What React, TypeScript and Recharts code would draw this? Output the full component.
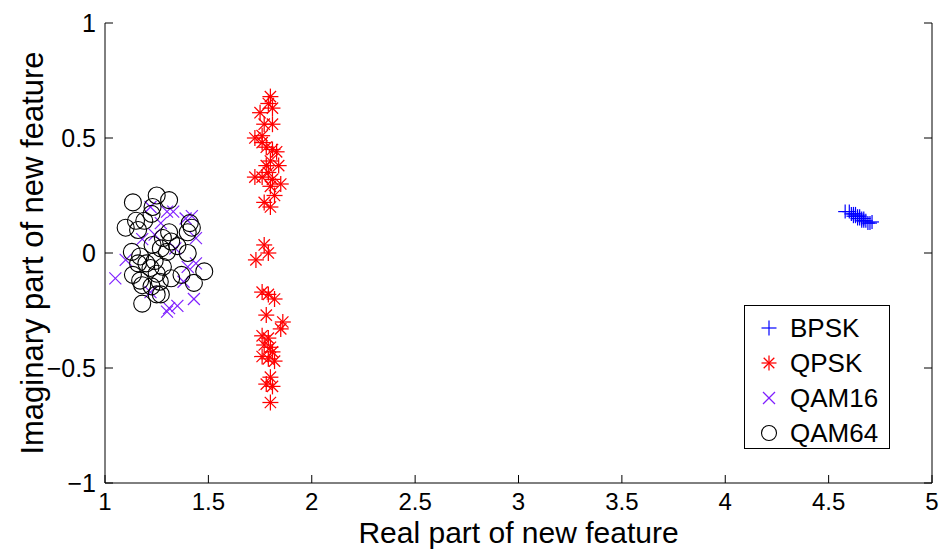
import React from 'react';
import { ScatterChart, Scatter, XAxis, YAxis, Legend } from 'recharts';

const xTicks = [1, 1.5, 2, 2.5, 3, 3.5, 4, 4.5, 5];
const yTicks = [-1, -0.5, 0, 0.5, 1];

const bpskX = [4.58, 4.6, 4.61, 4.62, 4.62, 4.63, 4.63, 4.64, 4.64, 4.65, 4.65, 4.66, 4.66, 4.67, 4.67, 4.68, 4.69, 4.7, 4.71];
const bpskY = [0.18, 0.18, 0.17, 0.17, 0.16, 0.17, 0.16, 0.16, 0.15, 0.16, 0.15, 0.15, 0.14, 0.15, 0.14, 0.14, 0.13, 0.13, 0.135];

const qpskX = [1.8, 1.79, 1.81, 1.75, 1.81, 1.77, 1.725, 1.76, 1.76, 1.81, 1.78, 1.83, 1.8, 1.84, 1.78, 1.725, 1.76, 1.79, 1.81, 1.85, 1.8, 1.82, 1.77, 1.8, 1.77, 1.79, 1.73, 1.76, 1.79, 1.82, 1.78, 1.86, 1.85, 1.76, 1.79, 1.77, 1.8, 1.81, 1.76, 1.79, 1.82, 1.8, 1.78, 1.81, 1.8];
const qpskY = [0.68, 0.65, 0.63, 0.61, 0.56, 0.56, 0.5, 0.51, 0.48, 0.45, 0.46, 0.44, 0.4, 0.38, 0.38, 0.33, 0.33, 0.35, 0.32, 0.3, 0.29, 0.25, 0.22, 0.2, 0.035, 0.0, -0.03, -0.17, -0.18, -0.2, -0.27, -0.3, -0.33, -0.36, -0.37, -0.4, -0.41, -0.43, -0.45, -0.46, -0.47, -0.54, -0.57, -0.58, -0.65];

const qam16X = [1.05, 1.22, 1.3, 1.33, 1.39, 1.42, 1.27, 1.24, 1.18, 1.44, 1.1, 1.44, 1.4, 1.38, 1.31, 1.3, 1.35, 1.43, 1.22, 1.34];
const qam16Y = [-0.11, 0.2, 0.18, 0.18, 0.15, 0.16, 0.13, 0.08, 0.06, 0.065, -0.03, -0.045, -0.06, -0.125, -0.24, -0.255, -0.23, -0.2, -0.17, 0.02];

const qam64X = [1.135, 1.25, 1.31, 1.23, 1.225, 1.19, 1.15, 1.1, 1.16, 1.41, 1.42, 1.4, 1.31, 1.28, 1.32, 1.23, 1.35, 1.4, 1.13, 1.3, 1.27, 1.17, 1.2, 1.24, 1.22, 1.28, 1.16, 1.135, 1.25, 1.48, 1.37, 1.32, 1.43, 1.18, 1.225, 1.265, 1.25, 1.27, 1.18, 1.17];
const qam64Y = [0.22, 0.25, 0.23, 0.2, 0.17, 0.14, 0.14, 0.11, 0.1, 0.13, 0.11, 0.09, 0.09, 0.065, 0.05, 0.035, 0.03, 0.0, 0.005, 0.005, 0.02, -0.015, -0.045, -0.035, -0.065, -0.06, -0.045, -0.095, -0.09, -0.08, -0.095, -0.11, -0.13, -0.14, -0.145, -0.125, -0.18, -0.18, -0.22, -0.12];

const seriesNames = ['BPSK', 'QPSK', 'QAM16', 'QAM64'];
const seriesColors = ['#0000ff', '#ff0000', '#7f1fff', '#000000'];

const zip = (xs: number[], ys: number[]) => xs.map((x, i) => ({ x, y: ys[i] }));
const bpskData = zip(bpskX, bpskY);
const qpskData = zip(qpskX, qpskY);
const qam16Data = zip(qam16X, qam16Y);
const qam64Data = zip(qam64X, qam64Y);

const FONT = '"Liberation Sans", Arial, Helvetica, sans-serif';
const TICK_LEN = 8;

const fmt = (v: number) => (v < 0 ? '\u2212' + String(-v) : String(v));

const PlusMark = ({ cx, cy, color, s = 7 }: any) => (
  <g stroke={color} strokeWidth={1.2} fill="none">
    <line x1={cx - s} y1={cy} x2={cx + s} y2={cy} />
    <line x1={cx} y1={cy - s} x2={cx} y2={cy + s} />
  </g>
);
const StarMark = ({ cx, cy, color, s = 8 }: any) => {
  const d = s * 0.707;
  return (
    <g stroke={color} strokeWidth={1.25} fill="none">
      <line x1={cx - s} y1={cy} x2={cx + s} y2={cy} />
      <line x1={cx} y1={cy - s} x2={cx} y2={cy + s} />
      <line x1={cx - d} y1={cy - d} x2={cx + d} y2={cy + d} />
      <line x1={cx - d} y1={cy + d} x2={cx + d} y2={cy - d} />
    </g>
  );
};
const XMark = ({ cx, cy, color, s = 6 }: any) => (
  <g stroke={color} strokeWidth={1.2} fill="none">
    <line x1={cx - s} y1={cy - s} x2={cx + s} y2={cy + s} />
    <line x1={cx - s} y1={cy + s} x2={cx + s} y2={cy - s} />
  </g>
);
const CircleMark = ({ cx, cy, color, s = 8.5 }: any) => (
  <circle cx={cx} cy={cy} r={s} stroke={color} strokeWidth={1.1} fill="none" />
);

const markers = [PlusMark, StarMark, XMark, CircleMark];

const BottomTick = (props: any) => {
  const { x, y, payload } = props;
  const axisY = y - 10;
  return (
    <g>
      <line x1={x} y1={axisY} x2={x} y2={axisY - TICK_LEN} stroke="#000" strokeWidth={1} />
      <text x={x} y={axisY + 27} textAnchor="middle" fontSize={24} fontFamily={FONT} fill="#000">
        {fmt(payload.value)}
      </text>
    </g>
  );
};
const TopTick = (props: any) => {
  const { x, y } = props;
  return <line x1={x} y1={y} x2={x} y2={y + TICK_LEN} stroke="#000" strokeWidth={1} />;
};
const LeftTick = (props: any) => {
  const { x, y, payload } = props;
  const axisX = x + 8;
  return (
    <g>
      <line x1={axisX} y1={y} x2={axisX + TICK_LEN} y2={y} stroke="#000" strokeWidth={1} />
      <text x={axisX - 9} y={y + 9} textAnchor="end" fontSize={25} fontFamily={FONT} fill="#000">
        {fmt(payload.value)}
      </text>
    </g>
  );
};
const RightTick = (props: any) => {
  const { x, y } = props;
  return <line x1={x} y1={y} x2={x - TICK_LEN} y2={y} stroke="#000" strokeWidth={1} />;
};

const LegendBox = () => (
  <div
    style={{
      border: '1.2px solid #000',
      background: '#fff',
      width: 146,
      height: 144,
      boxSizing: 'border-box',
      fontFamily: FONT,
      paddingTop: 4,
    }}
  >
    {seriesNames.map((name, i) => {
      const M = markers[i];
      return (
        <div key={name} style={{ display: 'flex', alignItems: 'center', height: 35 }}>
          <svg width={44} height={30} style={{ display: 'block' }}>
            <M cx={24} cy={15} color={seriesColors[i]} s={i === 3 ? 7.5 : i === 2 ? 6 : 7.5} />
          </svg>
          <span style={{ fontSize: 26, color: '#000', marginLeft: 1, lineHeight: '30px' }}>{name}</span>
        </div>
      );
    })}
  </div>
);

const shapeFor = (i: number) => (p: any) => {
  const M = markers[i];
  return <M cx={p.cx} cy={p.cy} color={seriesColors[i]} />;
};

export default function App() {
  return (
    <div style={{ position: 'absolute', left: 0, top: 0, width: 942, height: 549, background: '#fff' }}>
      <ScatterChart width={942} height={549} margin={{ top: 23, right: 9, bottom: 0, left: 18 }}>
        <XAxis
          xAxisId="b"
          type="number"
          dataKey="x"
          domain={[1, 5]}
          ticks={xTicks}
          allowDataOverflow
          orientation="bottom"
          height={66}
          tickSize={0}
          tickMargin={10}
          tick={<BottomTick />}
          axisLine={{ stroke: '#000', strokeWidth: 1 }}
          label={{ value: 'Real part of new feature', position: 'insideBottom', offset: 6, fontSize: 30, fill: '#000', fontFamily: FONT }}
        />
        <XAxis
          xAxisId="t"
          type="number"
          dataKey="x"
          domain={[1, 5]}
          ticks={xTicks}
          allowDataOverflow
          orientation="top"
          height={0}
          tickSize={0}
          tickMargin={0}
          tick={<TopTick />}
          axisLine={{ stroke: '#000', strokeWidth: 1 }}
        />
        <YAxis
          yAxisId="l"
          type="number"
          dataKey="y"
          domain={[-1, 1]}
          ticks={yTicks}
          allowDataOverflow
          orientation="left"
          width={87}
          tickSize={0}
          tickMargin={8}
          tick={<LeftTick />}
          axisLine={{ stroke: '#000', strokeWidth: 1 }}
          label={{
            value: 'Imaginary part of new feature',
            angle: -90,
            position: 'insideLeft',
            offset: 14,
            fontSize: 31,
            fill: '#000',
            fontFamily: FONT,
            style: { textAnchor: 'middle' },
          }}
        />
        <YAxis
          yAxisId="r"
          type="number"
          dataKey="y"
          domain={[-1, 1]}
          ticks={yTicks}
          allowDataOverflow
          orientation="right"
          width={1}
          tickSize={0}
          tickMargin={0}
          tick={<RightTick />}
          axisLine={{ stroke: '#000', strokeWidth: 1 }}
        />
        <Legend
          layout="horizontal"
          verticalAlign="middle"
          align="center"
          content={() => <LegendBox />}
          wrapperStyle={{ position: 'absolute', left: 744, top: 305, width: 146, height: 144 }}
        />
        <Scatter name={seriesNames[0]} data={bpskData} xAxisId="b" yAxisId="l" shape={shapeFor(0)} isAnimationActive={false} />
        <Scatter name={seriesNames[1]} data={qpskData} xAxisId="b" yAxisId="l" shape={shapeFor(1)} isAnimationActive={false} />
        <Scatter name={seriesNames[2]} data={qam16Data} xAxisId="b" yAxisId="l" shape={shapeFor(2)} isAnimationActive={false} />
        <Scatter name={seriesNames[3]} data={qam64Data} xAxisId="b" yAxisId="l" shape={shapeFor(3)} isAnimationActive={false} />
      </ScatterChart>
    </div>
  );
}
